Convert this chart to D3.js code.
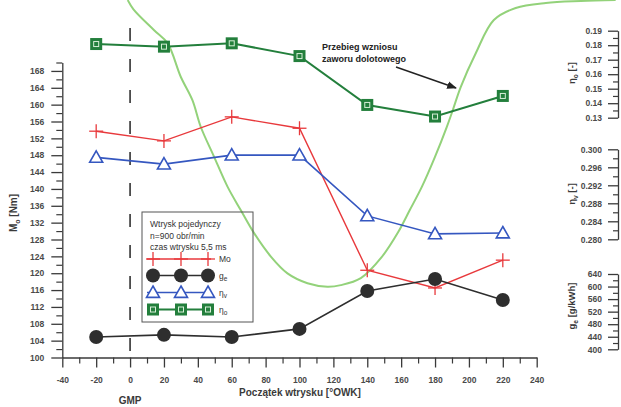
<!DOCTYPE html>
<html>
<head>
<meta charset="utf-8">
<script src="https://cdn.jsdelivr.net/npm/d3@7"></script>
<style>
  html, body { margin: 0; padding: 0; background: #fff; }
  svg { display: block; }
  text { font-family: "Liberation Sans", Arial, sans-serif; }
</style>
</head>
<body>
<svg id="chart" width="621" height="407"></svg>
<script>
// Injection start angle [deg crank angle]
const angles = [-20, 20, 60, 100, 140, 180, 220];
// Engine torque Mo [Nm]
const torque = [153.7, 151.4, 157.1, 154.4, 120.7, 116.5, 123.1];
// Specific fuel consumption ge [g/kWh]
const fuelCons = [439, 446, 439, 465, 586, 624, 557];
// Volumetric efficiency eta_v [-]
const etaV = [0.2982, 0.2967, 0.2987, 0.2987, 0.2852, 0.2812, 0.2814];
// Overall efficiency eta_o [-]
const etaO = [0.1808, 0.1790, 0.1813, 0.1725, 0.1388, 0.1308, 0.1450];

// Intake valve lift profile: crank angle [deg] and lift [mm]
const liftAngle = [-1.4, 2.0, 14.2, 22.1, 29.9, 36.8, 41.7, 49.6, 57.5, 65.3, 73.2, 83.1, 92.9, 104.7, 116.5, 124.4,
                   136.2, 148.6, 158.0, 165.1, 172.2, 179.9, 186.9, 190.5, 195.2, 204.1, 214.7, 227.6, 245.4, 266.0, 286.6];
const liftValue = [9.06, 8.77, 8.11, 7.70, 6.64, 5.90, 5.06, 4.11, 3.17, 2.43, 1.70, 0.96, 0.43, 0.12, 0.01, 0.06,
                   0.28, 0.95, 1.71, 2.43, 3.16, 4.10, 5.05, 5.59, 6.32, 7.39, 8.43, 8.81, 8.97, 9.03, 9.06];

// Axis tick values
const xTicks = [-40, -20, 0, 20, 40, 60, 80, 100, 120, 140, 160, 180, 200, 220, 240];
const xMinor = [-30, -10, 10, 30, 50, 70, 90, 110, 130, 150, 170, 190, 210, 230];
const moTicks = [100, 104, 108, 112, 116, 120, 124, 128, 132, 136, 140, 144, 148, 152, 156, 160, 164, 168];
const moMinor = [102, 106, 110, 114, 118, 122, 126, 130, 134, 138, 142, 146, 150, 154, 158, 162, 166, 170];
const etaOTicks = [0.13, 0.14, 0.15, 0.16, 0.17, 0.18, 0.19];
const etaOMinor = [0.135, 0.145, 0.155, 0.165, 0.175, 0.185];
const etaVTicks = [0.280, 0.284, 0.288, 0.292, 0.296, 0.300];
const etaVMinor = [0.282, 0.286, 0.290, 0.294, 0.298];
const geTicks = [400, 440, 480, 520, 560, 600, 640];
const geMinor = [420, 460, 500, 540, 580, 620];

const legendNote = ["Wtrysk pojedynczy", "n=900 obr/min", "czas wtrysku 5,5 ms"];

const svg = d3.select("#chart");

// Scales
const x = d3.scaleLinear().domain([-40, 240]).range([62.3, 536.7]);
const yMo = d3.scaleLinear().domain([100, 170]).range([357.5, 62.5]);
const yEtaO = d3.scaleLinear().domain([0.13, 0.19]).range([117.7, 30.7]);
const yEtaV = d3.scaleLinear().domain([0.280, 0.300]).range([239.3, 149.3]);
const yGe = d3.scaleLinear().domain([400, 640]).range([349.3, 274]);
const yLift = d3.scaleLinear().domain([0, 9]).range([287, 2]);

const axisColor = "#3a3a3a";
const labelColor = "#4a4a4a";

function styleAxis(g) {
  g.select(".domain").attr("stroke", axisColor).attr("stroke-width", 1.3);
  g.selectAll(".tick line").attr("stroke", axisColor).attr("stroke-width", 1.3);
  g.selectAll(".tick text").attr("fill", labelColor).attr("font-size", 8.5).attr("font-weight", "bold");
}
function styleMinor(g) {
  g.select(".domain").remove();
  g.selectAll(".tick line").attr("stroke", axisColor).attr("stroke-width", 1.2);
  g.selectAll(".tick text").remove();
}

// Bottom axis
const gx = svg.append("g").attr("transform", `translate(0,${yMo(100)})`);
gx.call(d3.axisBottom(x).tickValues(xTicks).tickSize(10).tickSizeOuter(0).tickPadding(9).tickFormat(d => String(d)));
styleAxis(gx);
const gxm = svg.append("g").attr("transform", `translate(0,${yMo(100)})`);
gxm.call(d3.axisBottom(x).tickValues(xMinor).tickSize(6));
styleMinor(gxm);

// Left axis (Mo)
const gy = svg.append("g").attr("transform", `translate(${x(-40)},0)`);
gy.call(d3.axisLeft(yMo).tickValues(moTicks).tickSize(11).tickSizeOuter(0).tickPadding(7).tickFormat(d3.format("d")));
styleAxis(gy);
const gym = svg.append("g").attr("transform", `translate(${x(-40)},0)`);
gym.call(d3.axisLeft(yMo).tickValues(moMinor).tickSize(6));
styleMinor(gym);

// Right axes
const rightX = 618;
function rightAxis(scale, ticks, minor, fmt) {
  const g = svg.append("g").attr("transform", `translate(${rightX},0)`);
  g.call(d3.axisLeft(scale).tickValues(ticks).tickSize(10).tickSizeOuter(0).tickPadding(6).tickFormat(fmt));
  styleAxis(g);
  const gm = svg.append("g").attr("transform", `translate(${rightX},0)`);
  gm.call(d3.axisLeft(scale).tickValues(minor).tickSize(5));
  styleMinor(gm);
}
rightAxis(yEtaO, etaOTicks, etaOMinor, d3.format(".2f"));
rightAxis(yEtaV, etaVTicks, etaVMinor, d3.format(".3f"));
rightAxis(yGe, geTicks, geMinor, d3.format("d"));

// Axis titles
function subLabel(px, py, main, sub, rest, rotate, size) {
  const t = svg.append("text")
    .attr("transform", `translate(${px},${py}) rotate(${rotate})`)
    .attr("text-anchor", "middle")
    .attr("font-size", size).attr("font-weight", "bold").attr("fill", "#3a3a3a");
  t.append("tspan").text(main);
  t.append("tspan").attr("font-size", size * 0.7).attr("dy", 3).text(sub);
  t.append("tspan").attr("dy", -3).text(rest);
  return t;
}
subLabel(17, 213, "M", "o", " [Nm]", -90, 10);
subLabel(575, 73, "η", "o", " [-]", -90, 9.5);
subLabel(575, 194, "η", "v", " [-]", -90, 9.5);
subLabel(575, 306, "g", "e", " [g/kWh]", -90, 9.5);

svg.append("text").attr("x", 300).attr("y", 396).attr("text-anchor", "middle")
  .attr("font-size", 10).attr("font-weight", "bold").attr("fill", "#3a3a3a")
  .text("Początek wtrysku [°OWK]");
svg.append("text").attr("x", x(0)).attr("y", 404).attr("text-anchor", "middle")
  .attr("font-size", 10).attr("font-weight", "bold").attr("fill", "#3a3a3a")
  .text("GMP");

// TDC (GMP) dashed marker
svg.append("line")
  .attr("x1", x(0)).attr("x2", x(0)).attr("y1", 28).attr("y2", yMo(100))
  .attr("stroke", "#333").attr("stroke-width", 1.6).attr("stroke-dasharray", "13,18");

// Valve lift curve
const liftPts = liftAngle.map((a, i) => [x(a), yLift(liftValue[i])]);
svg.append("path")
  .attr("d", d3.line().curve(d3.curveCatmullRom)(liftPts))
  .attr("fill", "none").attr("stroke", "#93d27a").attr("stroke-width", 2);

// Series
const colRed = "#e8393c", colBlue = "#3557c0", colGreen = "#237f3c", colBlack = "#2e2e2e";

function seriesLine(yScale, vals, color, width) {
  svg.append("path")
    .attr("d", d3.line().x((d, i) => x(angles[i])).y(d => yScale(d))(vals))
    .attr("fill", "none").attr("stroke", color).attr("stroke-width", width);
}
seriesLine(yMo, torque, colRed, 1.4);
seriesLine(yGe, fuelCons, colBlack, 1.6);
seriesLine(yEtaV, etaV, colBlue, 1.6);
seriesLine(yEtaO, etaO, colGreen, 2);

// Marker drawers
function plus(g, cx, cy) {
  g.append("line").attr("x1", cx - 7).attr("x2", cx + 7).attr("y1", cy).attr("y2", cy).attr("stroke", colRed).attr("stroke-width", 1.3);
  g.append("line").attr("x1", cx).attr("x2", cx).attr("y1", cy - 7).attr("y2", cy + 7).attr("stroke", colRed).attr("stroke-width", 1.3);
}
function dot(g, cx, cy) {
  g.append("circle").attr("cx", cx).attr("cy", cy).attr("r", 7).attr("fill", colBlack);
}
function tri(g, cx, cy) {
  const s = 6.5;
  g.append("path").attr("d", `M${cx},${cy - s}L${cx + s},${cy + s * 0.75}L${cx - s},${cy + s * 0.75}Z`)
    .attr("fill", "#fff").attr("stroke", colBlue).attr("stroke-width", 1.6);
}
function sq(g, cx, cy) {
  g.append("rect").attr("x", cx - 6).attr("y", cy - 6).attr("width", 12).attr("height", 12).attr("fill", colGreen);
  g.append("rect").attr("x", cx - 2.5).attr("y", cy - 2.5).attr("width", 5).attr("height", 5)
    .attr("fill", "none").attr("stroke", "#d8efd8").attr("stroke-width", 1);
}

const marks = svg.append("g");
angles.forEach((a, i) => {
  plus(marks, x(a), yMo(torque[i]));
  dot(marks, x(a), yGe(fuelCons[i]));
  tri(marks, x(a), yEtaV(etaV[i]));
  sq(marks, x(a), yEtaO(etaO[i]));
});

// Legend
const lg = svg.append("g");
lg.append("rect").attr("x", 142).attr("y", 212).attr("width", 111).attr("height", 110)
  .attr("fill", "none").attr("stroke", "#555").attr("stroke-width", 1);
legendNote.forEach((s, i) => {
  lg.append("text").attr("x", 150).attr("y", 227 + i * 11.7).attr("font-size", 8.5).attr("fill", "#333").text(s);
});
const rows = [
  { y: 259, color: colRed, w: 1.3, draw: plus, main: "Mo", sub: "" },
  { y: 275.5, color: colBlack, w: 1.6, draw: dot, main: "g", sub: "e" },
  { y: 292.5, color: colBlue, w: 1.6, draw: tri, main: "η", sub: "v" },
  { y: 309.5, color: colGreen, w: 2, draw: sq, main: "η", sub: "o" }
];
rows.forEach(r => {
  lg.append("line").attr("x1", 147).attr("x2", 211).attr("y1", r.y).attr("y2", r.y)
    .attr("stroke", r.color).attr("stroke-width", r.w);
  [153, 181, 208].forEach(cx => r.draw(lg, cx, r.y));
  const t = lg.append("text").attr("x", 219).attr("y", r.y + 3).attr("font-size", 8.5).attr("fill", "#333");
  t.append("tspan").text(r.main);
  if (r.sub) t.append("tspan").attr("font-size", 6.5).attr("dy", 2).text(r.sub);
});

// Annotation for the valve lift curve
svg.append("defs").append("marker")
  .attr("id", "arrowHead").attr("viewBox", "0 0 10 10").attr("refX", 9).attr("refY", 5)
  .attr("markerWidth", 7).attr("markerHeight", 7).attr("orient", "auto")
  .append("path").attr("d", "M0,1L10,5L0,9Z").attr("fill", "#222");
svg.append("text").attr("x", 322).attr("y", 50).attr("font-size", 9).attr("font-weight", "bold").attr("fill", "#222")
  .text("Przebieg wzniosu");
svg.append("text").attr("x", 322).attr("y", 62).attr("font-size", 9).attr("font-weight", "bold").attr("fill", "#222")
  .text("zaworu dolotowego");
svg.append("line").attr("x1", 396).attr("y1", 67).attr("x2", 456).attr("y2", 88)
  .attr("stroke", "#222").attr("stroke-width", 1.4).attr("marker-end", "url(#arrowHead)");
</script>
</body>
</html>
